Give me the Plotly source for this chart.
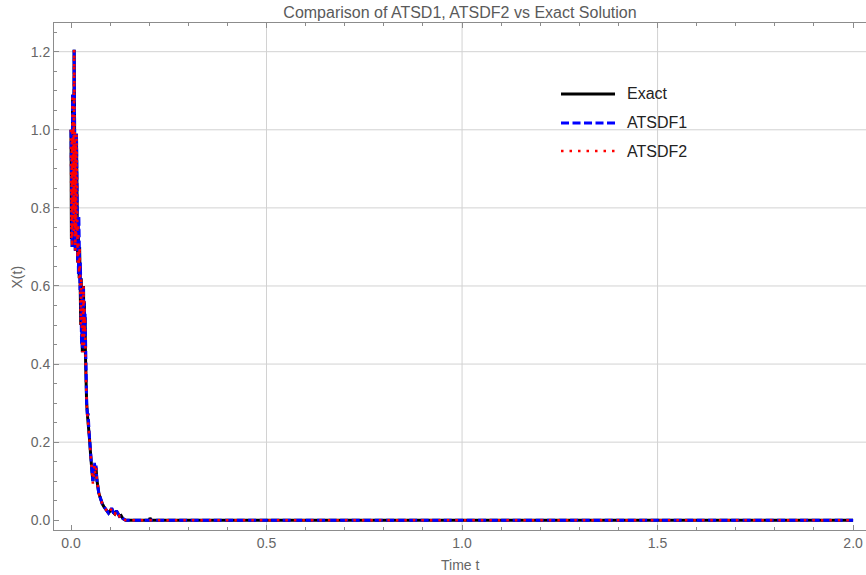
import plotly.graph_objects as go

# Time grid (s)
time = [
    0.000, 0.001, 0.002, 0.003, 0.004, 0.005, 0.006, 0.007, 0.008, 0.009,
    0.010, 0.011, 0.012, 0.013, 0.014, 0.015, 0.016, 0.017, 0.018, 0.019,
    0.020, 0.021, 0.022, 0.023, 0.024, 0.025, 0.026, 0.027, 0.028, 0.029,
    0.030, 0.031, 0.032, 0.033, 0.034, 0.035, 0.036, 0.037, 0.038, 0.039,
    0.040, 0.042, 0.044, 0.046, 0.048, 0.050, 0.052, 0.054, 0.056, 0.058,
    0.060, 0.062, 0.064, 0.066, 0.068, 0.071, 0.074, 0.077, 0.080, 0.084,
    0.088, 0.092, 0.096, 0.100, 0.104, 0.108, 0.112, 0.116, 0.120, 0.124,
    0.128, 0.132, 0.136, 0.140, 0.200, 0.202, 0.205, 2.000,
]

exact = [
    1.00, 0.72, 0.97, 0.70, 1.09, 0.80, 1.02, 0.74, 1.205, 0.88,
    1.06, 0.69, 0.96, 0.73, 0.99, 0.70, 0.79, 0.66, 0.76, 0.63,
    0.74, 0.62, 0.70, 0.59, 0.66, 0.50, 0.62, 0.45, 0.58, 0.43,
    0.55, 0.47, 0.60, 0.44, 0.56, 0.48, 0.52, 0.42, 0.36, 0.31,
    0.30, 0.27, 0.25, 0.225, 0.20, 0.17, 0.13, 0.12, 0.10, 0.13,
    0.14, 0.12, 0.135, 0.105, 0.085, 0.07, 0.06, 0.05, 0.042, 0.035,
    0.03, 0.022, 0.018, 0.024, 0.03, 0.02, 0.016, 0.024, 0.018, 0.01,
    0.012, 0.005, 0.002, 0.0, 0.0, 0.006, 0.0, 0.0,
]

atsdf1 = [
    1.00, 0.73, 0.97, 0.70, 1.09, 0.81, 1.02, 0.74, 1.205, 0.90,
    1.06, 0.69, 0.96, 0.74, 0.99, 0.70, 0.79, 0.66, 0.76, 0.63,
    0.78, 0.62, 0.70, 0.59, 0.66, 0.50, 0.63, 0.45, 0.58, 0.44,
    0.55, 0.47, 0.60, 0.44, 0.56, 0.48, 0.53, 0.42, 0.36, 0.31,
    0.30, 0.27, 0.27, 0.23, 0.20, 0.17, 0.13, 0.12, 0.10, 0.135,
    0.147, 0.125, 0.14, 0.105, 0.085, 0.07, 0.06, 0.05, 0.042, 0.035,
    0.03, 0.022, 0.018, 0.024, 0.031, 0.02, 0.016, 0.024, 0.018, 0.01,
    0.012, 0.005, 0.002, 0.0, 0.0, 0.0, 0.0, 0.0,
]

atsdf2 = [
    1.00, 0.72, 0.97, 0.70, 1.09, 0.80, 1.02, 0.74, 1.205, 0.88,
    1.06, 0.69, 0.96, 0.73, 0.99, 0.70, 0.79, 0.66, 0.76, 0.63,
    0.74, 0.62, 0.70, 0.59, 0.66, 0.50, 0.62, 0.45, 0.58, 0.43,
    0.55, 0.47, 0.60, 0.43, 0.56, 0.48, 0.52, 0.42, 0.36, 0.31,
    0.30, 0.27, 0.25, 0.225, 0.20, 0.17, 0.13, 0.12, 0.094, 0.13,
    0.14, 0.12, 0.135, 0.105, 0.085, 0.07, 0.06, 0.05, 0.042, 0.035,
    0.03, 0.022, 0.018, 0.024, 0.03, 0.02, 0.016, 0.024, 0.018, 0.01,
    0.012, 0.005, 0.002, 0.0, 0.0, 0.0, 0.0, 0.0,
]

series_names = ["Exact", "ATSDF1", "ATSDF2"]
series_colors = ["black", "blue", "red"]
series_dash = ["solid", "8px,3.5px", "2.5px,6px"]
series_width = [3, 3, 2.6]

x_ticks = [0.0, 0.5, 1.0, 1.5, 2.0]
y_ticks = [0.0, 0.2, 0.4, 0.6, 0.8, 1.0, 1.2]
x_grid = [0.5, 1.0, 1.5]
y_grid = [0.2, 0.4, 0.6, 0.8, 1.0, 1.2]

FONT = "Liberation Sans, Arial, sans-serif"
FRAME = "#8c8c8c"
LABEL = "#666666"

fig = go.Figure()
for name, ys, col, dash, w in zip(series_names, [exact, atsdf1, atsdf2],
                                  series_colors, series_dash, series_width):
    fig.add_trace(go.Scatter(
        x=time, y=ys, mode="lines", name=name, showlegend=False,
        line=dict(color=col, width=w, dash=dash),
    ))

shapes = []
for gx in x_grid:
    shapes.append(dict(type="line", xref="x", yref="paper", x0=gx, x1=gx,
                       y0=0, y1=1, line=dict(color="#d2d2d2", width=1),
                       layer="below"))
for gy in y_grid:
    shapes.append(dict(type="line", xref="paper", yref="y", x0=0, x1=1,
                       y0=gy, y1=gy, line=dict(color="#d2d2d2", width=1),
                       layer="below"))

# Legend drawn inside the frame
leg_x0, leg_x1, leg_text_x = 0.6244, 0.6909, 0.7032
leg_rows = [0.860, 0.8028, 0.7475]
annotations = []
for name, col, dash, w, yy in zip(series_names, series_colors, series_dash,
                                  series_width, leg_rows):
    shapes.append(dict(type="line", xref="paper", yref="paper",
                       x0=leg_x0, x1=leg_x1, y0=yy, y1=yy,
                       line=dict(color=col, width=w, dash=dash)))
    annotations.append(dict(text=name, xref="paper", yref="paper",
                            x=leg_text_x, y=yy, xanchor="left",
                            yanchor="middle", showarrow=False,
                            font=dict(family=FONT, size=16, color="#222222")))

annotations.append(dict(text="Time t", xref="paper", yref="paper", x=0.5,
                        y=-0.069, xanchor="center", yanchor="middle",
                        showarrow=False,
                        font=dict(family=FONT, size=14, color=LABEL)))
annotations.append(dict(text="X(t)", xref="paper", yref="paper", x=-0.0456,
                        y=0.5, xanchor="center", yanchor="middle",
                        textangle=-90, showarrow=False,
                        font=dict(family=FONT, size=14, color=LABEL)))

fig.update_layout(
    width=866, height=575,
    margin=dict(l=54, r=0, t=23, b=45),
    paper_bgcolor="white", plot_bgcolor="white",
    title=dict(text="Comparison of ATSD1, ATSDF2 vs Exact Solution",
               x=0.5, xref="paper", y=1 - 12 / 575, yref="container",
               xanchor="center", yanchor="middle",
               font=dict(family=FONT, size=16, color="#5a5a5a")),
    shapes=shapes,
    annotations=annotations,
    xaxis=dict(
        range=[-0.0435, 2.033], tickvals=x_ticks, tickformat=".1f",
        showgrid=False, zeroline=False, showline=True, linecolor=FRAME,
        linewidth=1, mirror="ticks", ticks="inside", ticklen=5,
        tickcolor=FRAME, tickfont=dict(family=FONT, size=14, color=LABEL),
        minor=dict(dtick=0.1, tick0=0, ticks="inside", ticklen=3,
                   tickcolor=FRAME, showgrid=False),
    ),
    yaxis=dict(
        range=[-0.025, 1.2735], tickvals=y_ticks, tickformat=".1f",
        showgrid=False, zeroline=False, showline=True, linecolor=FRAME,
        linewidth=1, ticks="inside", ticklen=5, tickcolor=FRAME,
        tickfont=dict(family=FONT, size=14, color=LABEL),
        minor=dict(dtick=0.05, tick0=0, ticks="inside", ticklen=3,
                   tickcolor=FRAME, showgrid=False),
    ),
)

fig.write_html("out.html")
